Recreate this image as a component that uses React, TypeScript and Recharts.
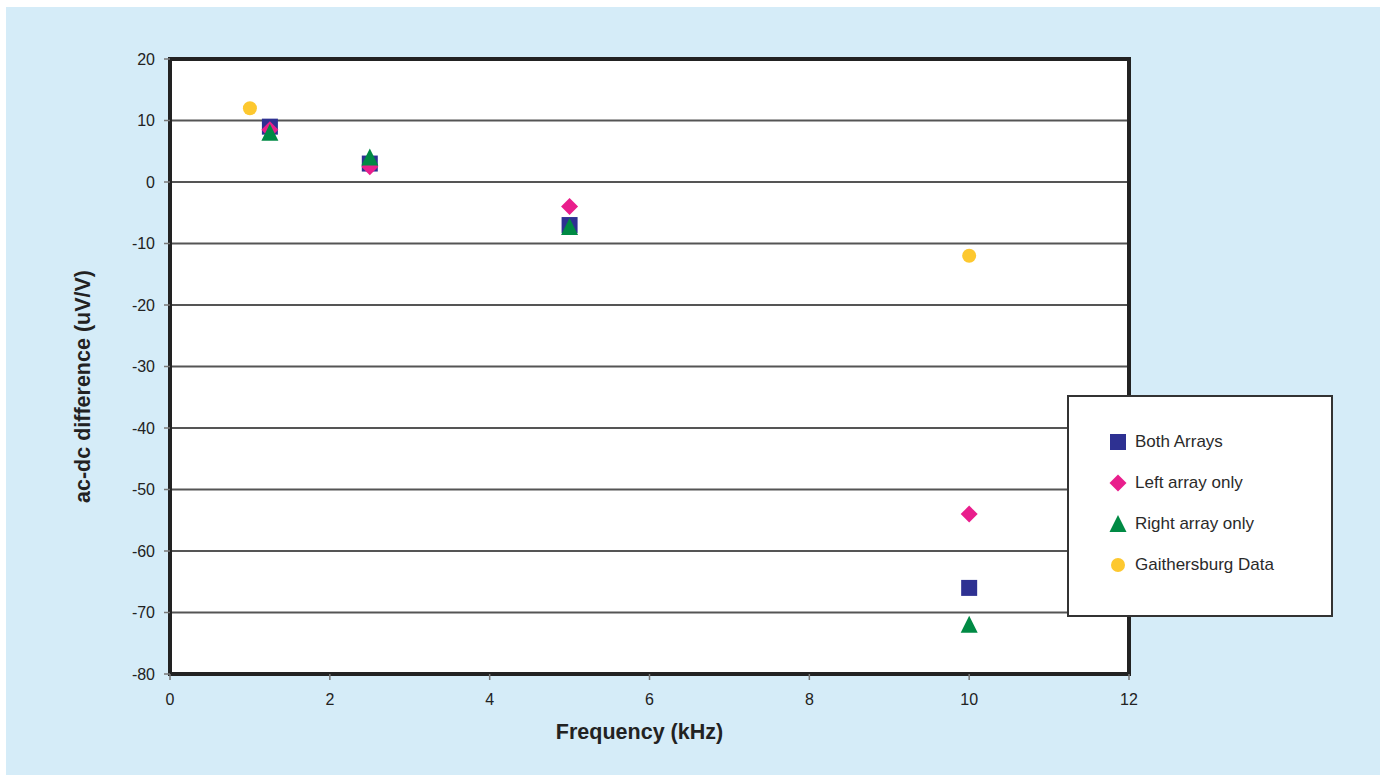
import { ScatterChart, Scatter, XAxis, YAxis, CartesianGrid, Legend, ReferenceArea } from 'recharts'

const bothArrays = [
  { x: 1.25, y: 9 },
  { x: 2.5, y: 3 },
  { x: 5, y: -7 },
  { x: 10, y: -66 },
]
const leftArray = [
  { x: 1.25, y: 8.5 },
  { x: 2.5, y: 2.5 },
  { x: 5, y: -4 },
  { x: 10, y: -54 },
]
const rightArray = [
  { x: 1.25, y: 8 },
  { x: 2.5, y: 4 },
  { x: 5, y: -7.3 },
  { x: 10, y: -72 },
]
const gaithersburg = [
  { x: 1, y: 12 },
  { x: 10, y: -12 },
]

const xTicks = [0, 2, 4, 6, 8, 10, 12]
const yTicks = [-80, -70, -60, -50, -40, -30, -20, -10, 0, 10, 20]

const FONT = '"Liberation Sans", Arial, Helvetica, sans-serif'
const BLUE = '#2e3192'
const PINK = '#e91e8c'
const GREEN = '#008a44'
const YELLOW = '#fdc82f'

const squareShape = (p: any) => <rect x={p.cx - 8} y={p.cy - 8} width={16} height={16} fill={BLUE} />
const diamondShape = (p: any) => (
  <path d={`M${p.cx},${p.cy - 8.5}L${p.cx + 8.5},${p.cy}L${p.cx},${p.cy + 8.5}L${p.cx - 8.5},${p.cy}Z`} fill={PINK} />
)
const triangleShape = (p: any) => (
  <path d={`M${p.cx},${p.cy - 9}L${p.cx + 8.5},${p.cy + 8}L${p.cx - 8.5},${p.cy + 8}Z`} fill={GREEN} />
)
const circleShape = (p: any) => <circle cx={p.cx} cy={p.cy} r={7} fill={YELLOW} />

const legendItems = [
  { name: 'Both Arrays', icon: <rect x={1} y={1} width={16} height={16} fill={BLUE} /> },
  { name: 'Left array only', icon: <path d="M9,0.5L17.5,9L9,17.5L0.5,9Z" fill={PINK} /> },
  { name: 'Right array only', icon: <path d="M9,0L17.5,17L0.5,17Z" fill={GREEN} /> },
  { name: 'Gaithersburg Data', icon: <circle cx={9} cy={9} r={7} fill={YELLOW} /> },
]

const LegendBox = () => (
  <div
    style={{
      width: 266,
      height: 222,
      background: '#fff',
      border: '2px solid #333',
      fontFamily: FONT,
      fontSize: 17,
      color: '#2a2a2a',
      paddingTop: 24,
      boxSizing: 'border-box',
    }}
  >
    {legendItems.map((item) => (
      <div key={item.name} style={{ display: 'flex', alignItems: 'center', height: 41, paddingLeft: 40 }}>
        <svg width={18} height={18} style={{ marginRight: 8 }}>
          {item.icon}
        </svg>
        <span>{item.name}</span>
      </div>
    ))}
  </div>
)

const App = () => {
  return (
    <div style={{ width: 1380, height: 775, position: 'relative', background: '#fff', overflow: 'hidden' }}>
      <style>{'body{margin:0;overflow:hidden}'}</style>
      <div style={{ position: 'absolute', left: 6, top: 7, width: 1374, height: 768, background: '#d5ecf8' }} />
      <div style={{ position: 'absolute', left: 0, top: 0 }}>
        <ScatterChart width={1380} height={775} margin={{ top: 59, right: 251, bottom: 71, left: 110 }}>
          <CartesianGrid vertical={false} fill="#fff" stroke="#555" strokeWidth={2} horizontalValues={yTicks} />
          <XAxis
            type="number"
            dataKey="x"
            domain={[0, 12]}
            ticks={xTicks}
            height={30}
            tickSize={6}
            tickMargin={14}
            axisLine={{ stroke: '#222', strokeWidth: 4 }}
            tickLine={{ stroke: '#777', strokeWidth: 1.5 }}
            tick={{ fill: '#222', fontSize: 16, fontFamily: FONT }}
            label={{ value: 'Frequency (kHz)', position: 'insideBottom', offset: -35, fill: '#222', fontSize: 21.5, fontWeight: 'bold', fontFamily: FONT, dx: -10 }}
          />
          <YAxis
            type="number"
            dataKey="y"
            domain={[-80, 20]}
            ticks={yTicks}
            width={60}
            tickSize={6}
            tickMargin={9}
            axisLine={{ stroke: '#222', strokeWidth: 4 }}
            tickLine={{ stroke: '#777', strokeWidth: 1.5 }}
            tick={{ fill: '#222', fontSize: 16, fontFamily: FONT }}
            label={{ value: 'ac-dc difference (uV/V)', angle: -90, position: 'insideLeft', offset: -28, dy: 20, fill: '#222', fontSize: 21.5, fontWeight: 'bold', fontFamily: FONT, style: { textAnchor: 'middle' } }}
          />
          <ReferenceArea x1={0} x2={12} y1={-80} y2={20} fill="none" stroke="#222" strokeWidth={4} />
          <Scatter name="Gaithersburg Data" data={gaithersburg} shape={circleShape} isAnimationActive={false} />
          <Scatter name="Both Arrays" data={bothArrays} shape={squareShape} isAnimationActive={false} />
          <Scatter name="Left array only" data={leftArray} shape={diamondShape} isAnimationActive={false} />
          <Scatter name="Right array only" data={rightArray} shape={triangleShape} isAnimationActive={false} />
          <Legend
            content={LegendBox}
            layout="vertical"
            align="center"
            verticalAlign="middle"
            wrapperStyle={{ position: 'absolute', left: 1067, top: 395, width: 266, height: 222 }}
          />
        </ScatterChart>
      </div>
    </div>
  )
}

export default App
